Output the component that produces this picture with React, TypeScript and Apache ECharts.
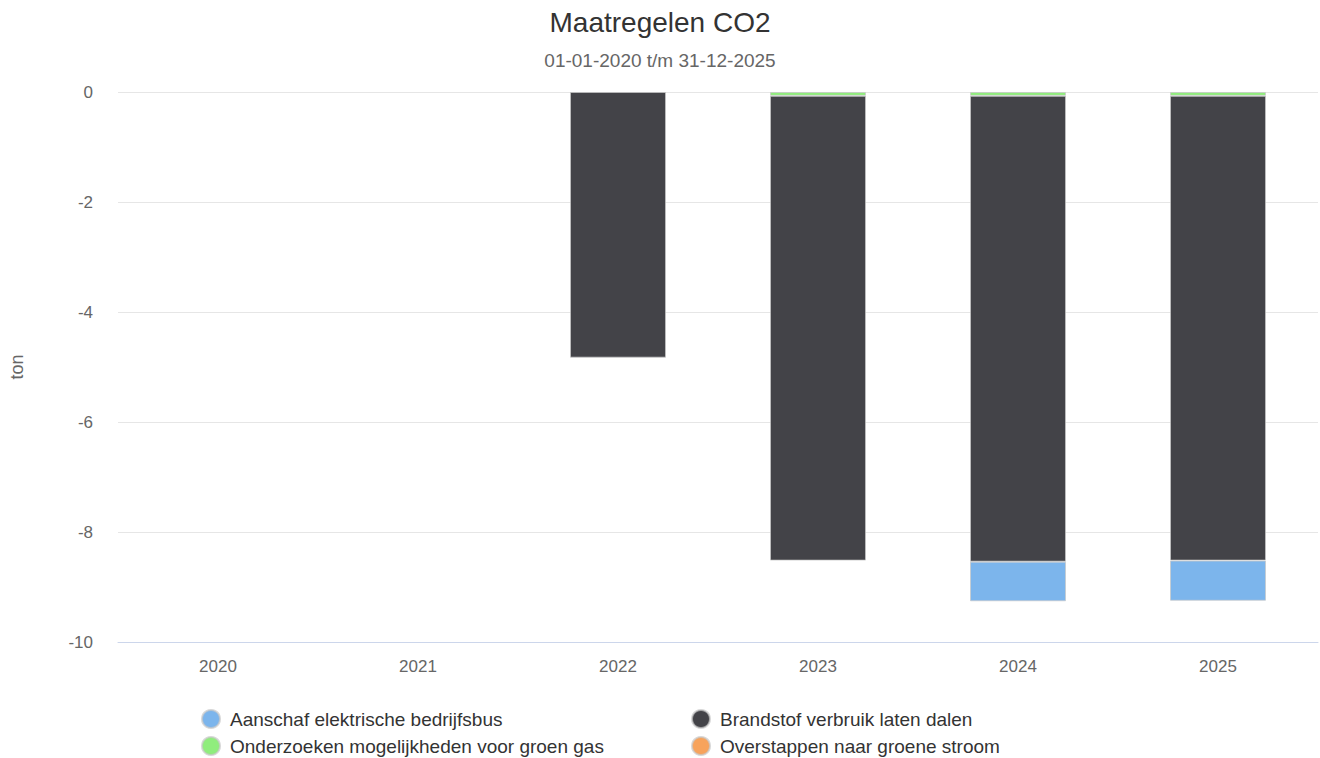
import React, { useEffect, useRef } from "react";
import * as echarts from "echarts";

const categories = ["2020", "2021", "2022", "2023", "2024", "2025"];
const seriesNames = [
  "Aanschaf elektrische bedrijfsbus",
  "Brandstof verbruik laten dalen",
  "Onderzoeken mogelijkheden voor groen gas",
  "Overstappen naar groene stroom",
];
const aanschaf = [null, null, null, null, -0.72, -0.73];
const brandstof = [null, null, -4.83, -8.45, -8.47, -8.45];
const groenGas = [null, null, null, -0.07, -0.07, -0.07];
const groeneStroom = [null, null, null, null, null, null];
const yTicks = { min: -10, max: 0, interval: 2 };

const colors = {
  aanschaf: "#7cb5ec",
  brandstof: "#434348",
  groenGas: "#90ed7d",
  groeneStroom: "#f7a35c",
};

export default function App() {
  const ref = useRef<HTMLDivElement>(null);
  useEffect(() => {
    document.body.style.margin = "0";
    if (!ref.current) return;
    const chart = echarts.init(ref.current, undefined, { renderer: "svg" });
    const font = "'Liberation Sans', Arial, Helvetica, sans-serif";
    const barStyle = (color: string) => ({
      color,
      borderColor: "rgba(200,200,200,0.7)",
      borderWidth: 1,
    });
    const legendCommon = {
      orient: "vertical",
      top: 709,
      padding: 0,
      itemGap: 7,
      itemWidth: 18,
      itemHeight: 18,
      icon: "circle",
      textStyle: { fontFamily: font, fontSize: 19, color: "#333333", padding: [0, 0, 0, 5] },
    };
    chart.setOption({
      animation: false,
      textStyle: { fontFamily: font },
      title: {
        text: "Maatregelen CO2",
        subtext: "01-01-2020 t/m 31-12-2025",
        left: "center",
        top: 8,
        padding: 0,
        itemGap: 15,
        textStyle: { fontFamily: font, fontSize: 28, fontWeight: "normal", color: "#333333" },
        subtextStyle: { fontFamily: font, fontSize: 19, color: "#666666" },
      },
      grid: {
        left: 118,
        right: 2,
        top: 92,
        bottom: 116,
        containLabel: false,
        outerBoundsMode: "none",
      },
      legend: [
        { ...legendCommon, left: 201, data: [seriesNames[0], seriesNames[2]] },
        { ...legendCommon, left: 691, data: [seriesNames[1], seriesNames[3]] },
      ],
      xAxis: {
        type: "category",
        data: categories,
        axisLine: { onZero: false, lineStyle: { color: "#ccd6eb" } },
        axisTick: { show: false },
        axisLabel: { color: "#666666", fontSize: 17, margin: 16, fontFamily: font },
      },
      yAxis: {
        type: "value",
        min: yTicks.min,
        max: yTicks.max,
        interval: yTicks.interval,
        name: "ton",
        nameLocation: "middle",
        nameRotate: 90,
        nameGap: 92,
        nameTextStyle: { color: "#666666", fontSize: 18, fontFamily: font },
        axisLine: { show: false },
        axisTick: { show: false },
        axisLabel: { color: "#666666", fontSize: 17, margin: 25, fontFamily: font },
        splitLine: { lineStyle: { color: "#e6e6e6" } },
      },
      series: [
        {
          name: seriesNames[2],
          type: "bar",
          stack: "total",
          barWidth: 96,
          data: groenGas,
          itemStyle: barStyle(colors.groenGas),
        },
        {
          name: seriesNames[1],
          type: "bar",
          stack: "total",
          barWidth: 96,
          data: brandstof,
          itemStyle: barStyle(colors.brandstof),
        },
        {
          name: seriesNames[0],
          type: "bar",
          stack: "total",
          barWidth: 96,
          data: aanschaf,
          itemStyle: barStyle(colors.aanschaf),
        },
        {
          name: seriesNames[3],
          type: "bar",
          stack: "total",
          barWidth: 96,
          data: groeneStroom,
          itemStyle: barStyle(colors.groeneStroom),
        },
      ],
    });
    return () => chart.dispose();
  }, []);
  return <div ref={ref} style={{ width: 1320, height: 758 }} />;
}
